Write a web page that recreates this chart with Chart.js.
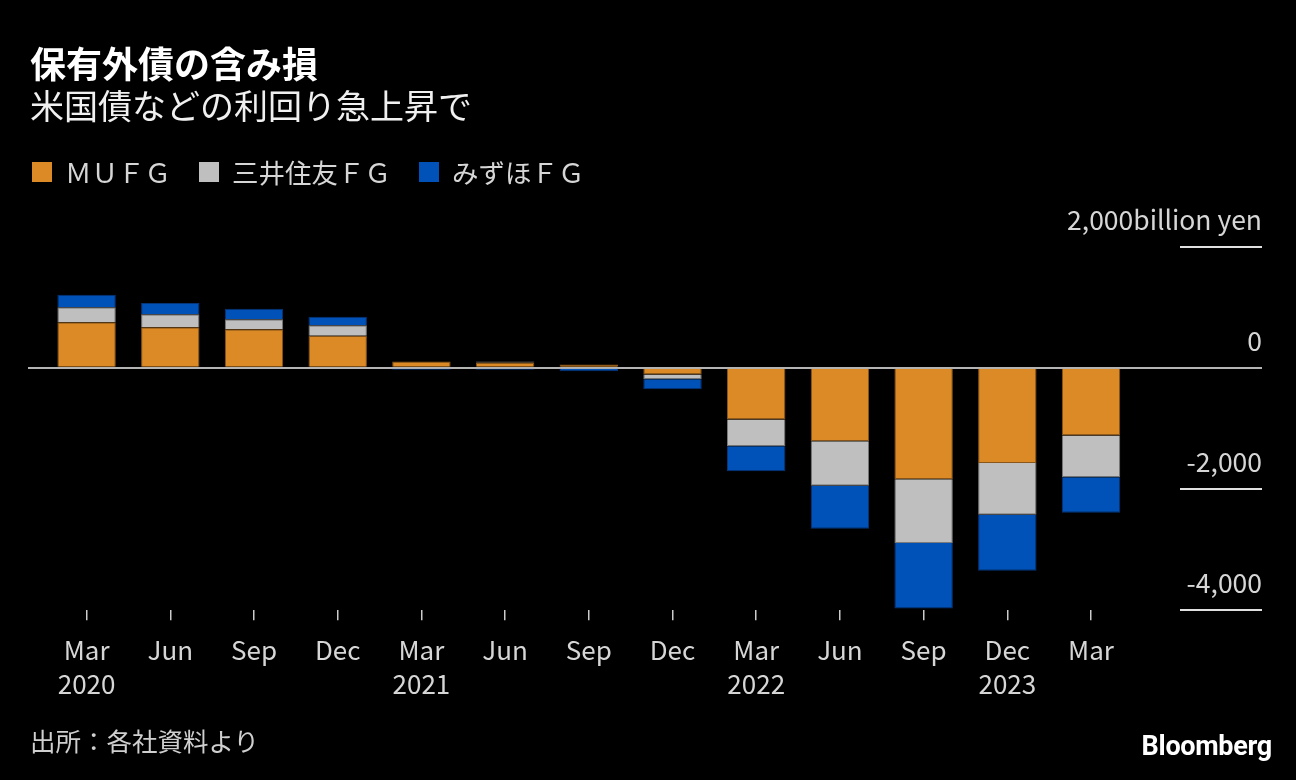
<!DOCTYPE html>
<html>
<head>
<meta charset="utf-8">
<script src="https://cdn.jsdelivr.net/npm/chart.js@4"></script>
<style>
  html, body { margin: 0; padding: 0; background: #000; }
  #wrap { position: relative; width: 1296px; height: 780px; background: #000; overflow: hidden;
          font-family: "Noto Sans CJK JP", "Noto Sans", sans-serif; }
  #chart { position: absolute; left: 0; top: 0; }
  .t { position: absolute; white-space: nowrap; }
  #title { left: 30px; top: 44px; font-size: 36px; line-height: 36px; font-weight: 700; color: #fff; }
  #subtitle { left: 30px; top: 88px; font-size: 34px; line-height: 34px; font-weight: 400; color: #f0f0f0; }
  #legend { left: 32px; top: 159px; height: 26px; display: flex; align-items: center; font-size: 26.5px; line-height: 26px; color: #d6d6d6; }
  #legend .item { display: flex; align-items: center; margin-right: 28px; }
  #legend .box { width: 20px; height: 20px; margin-right: 13px; }
  #source { left: 30px; top: 727px; font-size: 25.5px; line-height: 25px; color: #cfcfcf; }
  #brand { right: 24px; top: 733px; font-family: Roboto, "Liberation Sans", sans-serif; font-weight: 700; font-size: 27px; line-height: 27px; color: #fff; letter-spacing: -0.3px; }
</style>
</head>
<body>
<div id="wrap">
  <canvas id="chart" width="1296" height="780"></canvas>
  <div class="t" id="title">保有外債の含み損</div>
  <div class="t" id="subtitle">米国債などの利回り急上昇で</div>
  <div class="t" id="legend"></div>
  <div class="t" id="source">出所：各社資料より</div>
  <div class="t" id="brand">Bloomberg</div>
</div>
<script>
// ---- data (billion yen) ----
const months = ['Mar','Jun','Sep','Dec','Mar','Jun','Sep','Dec','Mar','Jun','Sep','Dec','Mar'];
const years  = ['2020','','','','2021','','','','2022','','','2023',''];
const seriesNames = ['ＭＵＦＧ', '三井住友ＦＧ', 'みずほＦＧ'];
const mufg   = [754, 672, 639, 528, 107, 88, 55, -110, -854, -1212, -1840, -1570, -1118];
const smfg   = [248, 215, 165, 176, 0, 15, 0, -77, -440, -733, -1052, -854, -688];
const mizuho = [203, 182, 170, 139, -30, -30, -55, -165, -413, -711, -1080, -925, -585];
const yTicks = [2000, 0, -2000, -4000];
const yUnit = 'billion yen';

const colors = ['#db8a26', '#bfbfbf', '#0052b9'];
const borders = ['#8a571a', '#7a7a7a', '#06357a'];
const seriesValues = [mufg, smfg, mizuho];

const datasets = seriesValues.map((vals, k) => ({
  label: seriesNames[k],
  data: vals.map((v, i) => ({ x: i, y: v })),
  backgroundColor: colors[k],
  borderColor: borders[k],
  borderWidth: 1,
  barPercentage: 0.698,
  categoryPercentage: 1.0
}));

// HTML legend built from the datasets
const legendEl = document.getElementById('legend');
datasets.forEach(ds => {
  const it = document.createElement('div'); it.className = 'item';
  const b = document.createElement('div'); b.className = 'box'; b.style.background = ds.backgroundColor;
  const s = document.createElement('span'); s.textContent = ds.label;
  it.appendChild(b); it.appendChild(s); legendEl.appendChild(it);
});

const fmt = v => Math.abs(v) >= 1000 ? (v < 0 ? '-' : '') + Math.floor(Math.abs(v) / 1000) + ',' + String(Math.abs(v) % 1000).padStart(3, '0') : String(v);

new Chart(document.getElementById('chart'), {
  type: 'bar',
  data: { datasets },
  options: {
    responsive: false,
    animation: false,
    events: [],
    layout: { padding: { left: 28, right: 34, top: 246.7, bottom: 65.7 } },
    plugins: { legend: { display: false }, tooltip: { enabled: false }, title: { display: false } },
    scales: {
      x: {
        type: 'linear',
        stacked: true,
        offset: false,
        min: -0.700,
        max: 13.063,
        afterBuildTicks: scale => { scale.ticks = months.map((m, i) => ({ value: i })); },
        border: { display: false },
        grid: { display: true, offset: false, drawOnChartArea: false, drawTicks: true, tickLength: 10, tickColor: '#cccccc', lineWidth: 1.5 },
        ticks: {
          autoSkip: false, maxRotation: 0, minRotation: 0, padding: 13,
          color: '#d6d6d6',
          font: { family: '"Noto Sans CJK JP", "Noto Sans", sans-serif', size: 26, lineHeight: 1.31 },
          callback: (value, index) => years[index] ? [months[index], years[index]] : months[index]
        }
      },
      y: {
        type: 'linear',
        position: 'right',
        stacked: true,
        min: -4000,
        max: 2000,
        afterBuildTicks: scale => { scale.ticks = yTicks.map(v => ({ value: v })); },
        afterFit: scale => { scale.width = 82; },
        border: { display: false },
        grid: {
          drawOnChartArea: true, drawTicks: true, tickLength: 82, lineWidth: 2,
          color: ctx => (ctx.tick && ctx.tick.value === 0) ? '#b4b4b4' : 'rgba(0,0,0,0)',
          tickColor: ctx => (ctx.tick && ctx.tick.value === 0) ? '#b4b4b4' : '#e0e0e0'
        },
        ticks: {
          mirror: true, padding: 82, labelOffset: -27,
          color: '#d6d6d6',
          font: { family: '"Noto Sans CJK JP", "Noto Sans", sans-serif', size: 26.5 },
          callback: v => v === 2000 ? fmt(v) + yUnit : fmt(v)
        }
      }
    }
  }
});
</script>
</body>
</html>
